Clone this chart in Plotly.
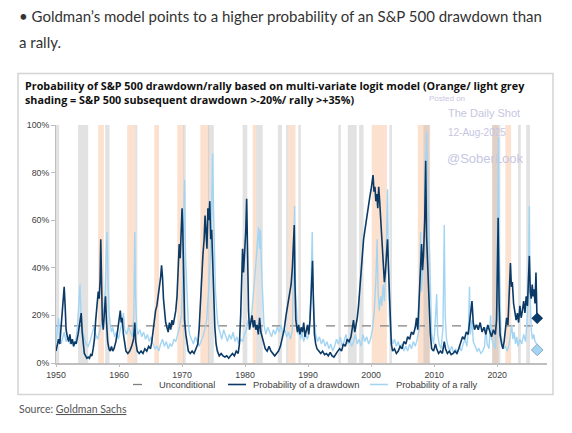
import plotly.graph_objects as go

# probability of a 20% drawdown (dark navy)
dd_years = [
    1950.0, 1950.2, 1950.4, 1950.6, 1950.8, 1951.0, 1951.2, 1951.3, 1951.45, 1951.6, 1951.8,
    1952.0, 1952.2, 1952.4, 1952.6, 1952.8, 1953.0, 1953.2, 1953.5, 1953.8, 1954.0, 1954.15,
    1954.3, 1954.5, 1954.7, 1954.9, 1955.1, 1955.3, 1955.5, 1955.7, 1955.9, 1956.1, 1956.3,
    1956.5, 1956.7, 1956.85, 1957.0, 1957.1, 1957.2, 1957.35, 1957.5, 1957.7, 1957.85, 1958.0,
    1958.2, 1958.4, 1958.6, 1958.8, 1959.0, 1959.2, 1959.5, 1959.8, 1960.0, 1960.2, 1960.35,
    1960.5, 1960.7, 1960.9, 1961.1, 1961.4, 1961.7, 1962.0, 1962.3, 1962.5, 1962.65, 1962.9,
    1963.2, 1963.5, 1963.8, 1964.1, 1964.4, 1964.7, 1965.0, 1965.2, 1965.4, 1965.6, 1965.8,
    1966.0, 1966.2, 1966.4, 1966.6, 1966.75, 1966.9, 1967.05, 1967.2, 1967.4, 1967.6, 1967.8,
    1968.0, 1968.2, 1968.4, 1968.6, 1968.8, 1969.0, 1969.2, 1969.4, 1969.55, 1969.7, 1969.85,
    1970.0, 1970.1, 1970.25, 1970.4, 1970.6, 1970.8, 1971.0, 1971.3, 1971.6, 1971.9, 1972.2,
    1972.5, 1972.7, 1972.9, 1973.1, 1973.3, 1973.5, 1973.65, 1973.8, 1973.95, 1974.1, 1974.25,
    1974.4, 1974.55, 1974.7, 1974.85, 1975.0, 1975.2, 1975.4, 1975.6, 1975.9, 1976.2, 1976.5,
    1976.8, 1977.1, 1977.4, 1977.7, 1978.0, 1978.3, 1978.6, 1978.9, 1979.1, 1979.3, 1979.5,
    1979.6, 1979.75, 1979.9, 1980.1, 1980.25, 1980.4, 1980.55, 1980.7, 1980.9, 1981.1, 1981.3,
    1981.5, 1981.7, 1981.9, 1982.1, 1982.3, 1982.5, 1982.7, 1982.9, 1983.2, 1983.5, 1983.8,
    1984.1, 1984.4, 1984.7, 1985.0, 1985.3, 1985.6, 1985.9, 1986.2, 1986.5, 1986.8, 1987.1,
    1987.3, 1987.5, 1987.7, 1987.8, 1987.9, 1988.05, 1988.3, 1988.5, 1988.7, 1988.9, 1989.1,
    1989.3, 1989.5, 1989.7, 1989.9, 1990.1, 1990.3, 1990.5, 1990.7, 1990.85, 1991.0, 1991.2,
    1991.4, 1991.7, 1992.0, 1992.3, 1992.6, 1992.9, 1993.2, 1993.5, 1993.8, 1994.1, 1994.4,
    1994.7, 1995.0, 1995.3, 1995.6, 1995.9, 1996.2, 1996.5, 1996.8, 1997.0, 1997.2, 1997.4,
    1997.6, 1997.8, 1998.0, 1998.2, 1998.4, 1998.6, 1998.8, 1999.0, 1999.2, 1999.4, 1999.6,
    1999.8, 2000.0, 2000.15, 2000.3, 2000.45, 2000.6, 2000.75, 2000.9, 2001.05, 2001.2, 2001.35,
    2001.5, 2001.65, 2001.8, 2001.95, 2002.1, 2002.25, 2002.45, 2002.6, 2002.75, 2002.9, 2003.05,
    2003.2, 2003.4, 2003.7, 2004.0, 2004.3, 2004.6, 2004.9, 2005.2, 2005.5, 2005.8, 2006.1,
    2006.4, 2006.7, 2007.0, 2007.2, 2007.4, 2007.6, 2007.8, 2008.0, 2008.15, 2008.3, 2008.5,
    2008.65, 2008.8, 2008.95, 2009.1, 2009.25, 2009.4, 2009.6, 2009.9, 2010.2, 2010.4, 2010.7,
    2011.0, 2011.3, 2011.6, 2011.8, 2012.1, 2012.4, 2012.7, 2013.0, 2013.3, 2013.6, 2013.9,
    2014.2, 2014.5, 2014.8, 2015.1, 2015.4, 2015.7, 2016.0, 2016.2, 2016.4, 2016.7, 2017.0,
    2017.3, 2017.6, 2017.9, 2018.2, 2018.5, 2018.8, 2019.1, 2019.4, 2019.7, 2019.9, 2020.05,
    2020.15, 2020.3, 2020.45, 2020.7, 2020.9, 2021.1, 2021.3, 2021.5, 2021.7, 2021.9, 2022.1,
    2022.25, 2022.4, 2022.6, 2022.8, 2023.0, 2023.2, 2023.4, 2023.6, 2023.8, 2024.0, 2024.2,
    2024.4, 2024.6, 2024.8, 2025.0, 2025.1, 2025.25, 2025.4, 2025.55, 2025.7, 2025.85, 2026.0,
    2026.15, 2026.3,
]
dd_values = [
    5, 7, 10, 8, 14, 20, 28, 32, 24, 14, 11,
    9, 12, 8, 10, 7, 9, 8, 12, 17, 21, 13,
    8, 4, 3, 2, 2.5, 2, 3.5, 3, 6, 10, 18,
    25, 30, 27, 35, 52, 38, 18, 14, 20, 28, 18,
    9, 6, 5, 7, 5, 6, 9, 14, 19, 22, 17,
    19, 12, 8, 5, 4, 5, 7, 10, 17, 9, 5,
    4, 5, 4, 6, 5, 7, 6, 9, 14, 19, 22,
    24, 28, 30, 36, 41, 36, 27, 22, 17, 15, 13,
    17, 14, 18, 16, 19, 22, 28, 40, 50, 44, 55,
    65, 58, 35, 18, 12, 8, 5, 4, 5, 4, 6,
    8, 14, 26, 35, 45, 52, 62, 55, 48, 65, 60,
    68, 52, 56, 40, 26, 15, 8, 5, 3, 4, 3,
    2.5, 3, 2, 3, 4, 3, 5, 4, 8, 20, 40,
    48, 38, 45, 55, 69, 40, 22, 14, 17, 20, 15,
    18, 14, 16, 12, 19, 13, 11, 8, 6, 5, 7,
    5, 4, 3, 4, 5, 7, 10, 14, 20, 25, 28,
    33, 40, 50, 58, 35, 18, 13, 16, 12, 15, 13,
    17, 11, 14, 16, 12, 18, 30, 43, 25, 12, 8,
    6, 5, 4, 5, 3.5, 4, 3, 4.5, 3, 2.5, 4,
    5, 6, 5, 8, 7, 10, 9, 11, 15, 18, 13,
    16, 19, 24, 30, 38, 45, 52, 56, 60, 64, 66,
    70, 73, 76, 79, 72, 74, 68, 71, 65, 74, 68,
    60, 57, 48, 40, 34, 38, 45, 52, 40, 28, 16,
    8, 5, 6, 4, 5, 7, 6, 9, 8, 11, 10,
    13, 12, 15, 19, 14, 25, 36, 50, 39, 45, 60,
    85, 53, 40, 28, 22, 12, 6, 5, 8, 6, 4,
    5, 4, 9, 6, 4, 5, 3.5, 4, 5, 4, 6,
    9, 11, 10, 13, 12, 18, 26, 17, 14, 16, 14,
    17, 13, 15, 12, 16, 13, 11, 14, 12, 18, 45,
    61, 25, 12, 8, 6, 9, 14, 19, 16, 30, 42,
    32, 34, 25, 22, 18, 21, 17, 24, 19, 22, 26,
    21, 28, 24, 35, 45, 30, 27, 33, 28, 31, 25,
    38, 20,
]

# probability of a 35% rally (light blue)
rally_years = [
    1950.0, 1950.2, 1950.4, 1950.55, 1950.8, 1951.0, 1951.3, 1951.6, 1951.9, 1952.2, 1952.5,
    1952.8, 1953.1, 1953.4, 1953.6, 1953.8, 1953.95, 1954.2, 1954.5, 1954.8, 1955.1, 1955.4,
    1955.7, 1956.0, 1956.3, 1956.6, 1956.9, 1957.2, 1957.5, 1957.8, 1958.0, 1958.1, 1958.25,
    1958.4, 1958.6, 1958.8, 1959.0, 1959.3, 1959.6, 1959.9, 1960.2, 1960.5, 1960.7, 1960.9,
    1961.2, 1961.5, 1961.8, 1962.1, 1962.35, 1962.5, 1962.6, 1962.8, 1963.0, 1963.3, 1963.6,
    1963.9, 1964.2, 1964.5, 1964.8, 1965.1, 1965.4, 1965.7, 1966.0, 1966.3, 1966.6, 1966.9,
    1967.2, 1967.5, 1967.8, 1968.1, 1968.4, 1968.7, 1969.0, 1969.3, 1969.6, 1969.9, 1970.1,
    1970.25, 1970.4, 1970.55, 1970.7, 1970.85, 1971.0, 1971.2, 1971.5, 1971.8, 1972.1, 1972.4,
    1972.7, 1973.0, 1973.3, 1973.6, 1973.9, 1974.2, 1974.5, 1974.7, 1974.85, 1974.95, 1975.1,
    1975.3, 1975.5, 1975.7, 1976.0, 1976.3, 1976.6, 1976.9, 1977.2, 1977.5, 1977.8, 1978.1,
    1978.4, 1978.7, 1979.0, 1979.3, 1979.6, 1979.9, 1980.2, 1980.5, 1980.8, 1981.1, 1981.4,
    1981.6, 1981.8, 1982.0, 1982.15, 1982.3, 1982.45, 1982.6, 1982.8, 1983.0, 1983.3, 1983.6,
    1983.9, 1984.2, 1984.5, 1984.8, 1985.1, 1985.4, 1985.7, 1986.0, 1986.3, 1986.6, 1986.9,
    1987.2, 1987.5, 1987.7, 1987.85, 1988.0, 1988.2, 1988.4, 1988.6, 1988.8, 1989.0, 1989.3,
    1989.6, 1989.9, 1990.2, 1990.45, 1990.65, 1990.8, 1991.0, 1991.2, 1991.5, 1991.8, 1992.1,
    1992.4, 1992.7, 1993.0, 1993.3, 1993.6, 1993.9, 1994.2, 1994.5, 1994.8, 1995.1, 1995.4,
    1995.7, 1996.0, 1996.3, 1996.6, 1996.9, 1997.2, 1997.5, 1997.8, 1998.1, 1998.4, 1998.7,
    1999.0, 1999.3, 1999.6, 1999.9, 2000.2, 2000.5, 2000.75, 2000.95, 2001.1, 2001.3, 2001.5,
    2001.7, 2001.9, 2002.1, 2002.3, 2002.5, 2002.6, 2002.75, 2002.9, 2003.1, 2003.4, 2003.7,
    2004.0, 2004.3, 2004.6, 2004.9, 2005.2, 2005.5, 2005.8, 2006.1, 2006.4, 2006.7, 2007.0,
    2007.3, 2007.6, 2007.85, 2008.0, 2008.2, 2008.4, 2008.6, 2008.8, 2008.95, 2009.1, 2009.25,
    2009.4, 2009.6, 2009.9, 2010.1, 2010.4, 2010.55, 2010.8, 2011.1, 2011.4, 2011.6, 2011.75,
    2011.95, 2012.2, 2012.5, 2012.8, 2013.1, 2013.4, 2013.7, 2014.0, 2014.3, 2014.6, 2014.9,
    2015.2, 2015.45, 2015.6, 2015.75, 2016.0, 2016.2, 2016.5, 2016.8, 2017.1, 2017.4, 2017.7,
    2018.0, 2018.2, 2018.4, 2018.7, 2018.95, 2019.1, 2019.4, 2019.7, 2019.95, 2020.1, 2020.2,
    2020.3, 2020.45, 2020.6, 2020.8, 2021.0, 2021.3, 2021.6, 2021.9, 2022.1, 2022.3, 2022.5,
    2022.7, 2022.9, 2023.1, 2023.3, 2023.6, 2023.9, 2024.2, 2024.5, 2024.8, 2025.0, 2025.1,
    2025.2, 2025.4, 2025.6, 2025.8, 2026.0, 2026.3,
]
rally_values = [
    9, 14, 19, 12, 8, 10, 13, 9, 11, 8, 10,
    7, 9, 15, 24, 33, 22, 14, 10, 8, 7, 9,
    12, 15, 12, 10, 13, 16, 20, 30, 45, 55, 35,
    22, 16, 13, 15, 11, 13, 10, 14, 17, 21, 14,
    12, 15, 13, 11, 20, 55, 30, 15, 12, 14, 11,
    13, 10, 12, 9, 11, 8, 6, 7, 5, 8, 10,
    7, 9, 6, 8, 7, 10, 9, 12, 15, 20, 35,
    60, 77, 45, 32, 20, 16, 12, 10, 8, 11, 9,
    7, 9, 11, 14, 18, 30, 45, 65, 88, 70, 46,
    30, 22, 16, 13, 10, 14, 11, 9, 12, 10, 13,
    9, 11, 8, 10, 9, 12, 14, 18, 15, 22, 30,
    38, 45, 52, 57, 48, 56, 40, 25, 16, 12, 15,
    13, 11, 14, 12, 15, 13, 16, 12, 14, 11, 13,
    10, 14, 40, 66, 30, 18, 12, 15, 10, 13, 9,
    12, 10, 14, 30, 55, 30, 18, 12, 9, 11, 8,
    10, 7, 9, 6, 8, 5, 7, 10, 8, 11, 7,
    9, 12, 8, 10, 7, 9, 12, 8, 10, 7, 12,
    9, 11, 8, 10, 14, 22, 35, 52, 30, 22, 28,
    24, 33, 26, 38, 60, 73, 40, 20, 12, 8, 10,
    7, 9, 6, 8, 5, 7, 5, 8, 6, 9, 7,
    10, 14, 55, 30, 40, 50, 80, 97, 80, 64, 40,
    22, 12, 8, 14, 29, 12, 8, 6, 15, 58, 20,
    10, 7, 5, 7, 4, 6, 4, 7, 5, 8, 10,
    7, 15, 32, 12, 18, 9, 7, 5, 6, 4, 5,
    7, 15, 8, 6, 20, 10, 8, 6, 30, 75, 95,
    50, 22, 12, 8, 6, 7, 5, 8, 12, 16, 10,
    13, 8, 11, 7, 10, 8, 12, 9, 20, 45, 66,
    30, 14, 10, 12, 9, 8,
]

UNCONDITIONAL = 15.6
DRAWDOWN_LATEST = 18.8
RALLY_LATEST = 5.5
LATEST_X = 2026.35

# subsequent drawdown >-20% (orange) and rally >+35% (grey) periods
drawdown_periods = [
    (1956.7, 1957.6), (1961.3, 1962.55), (1965.6, 1966.35), (1969.25, 1970.25),
    (1972.9, 1974.3), (1981.2, 1981.75), (1986.9, 1988.0), (2000.1, 2002.5),
    (2007.4, 2009.35), (2019.2, 2020.2), (2021.3, 2022.2),
]
rally_periods = [
    (1950.0, 1950.5), (1953.5, 1955.1), (1957.8, 1958.5), (1962.55, 1962.9),
    (1970.15, 1970.6), (1974.1, 1975.05), (1979.6, 1980.35), (1981.75, 1982.8),
    (1985.2, 1985.85), (1986.5, 1986.9), (1988.45, 1988.85), (1994.8, 1995.2),
    (1996.3, 1997.7), (1998.1, 1998.8), (2002.9, 2003.3), (2008.3, 2009.25),
    (2019.2, 2020.5), (2023.3, 2023.75), (2024.6, 2025.2),
]

# page is offset by the 8px body margin; positions below are page pixels
OFF = 8
L, R, T, B = 56, 547, 125, 363
LEGEND_Y = 384.5


def px_x(px):
    return (px - L) / (R - L)


def px_y(py):
    return (B - py) / (B - T)


NAVY = "#0b3a67"
LIGHT = "#a3d5f3"
GREY_TXT = "#404040"
AXIS_FONT = dict(family="Liberation Sans, Arial", size=8.8, color=GREY_TXT)

fig = go.Figure()

fig.add_trace(go.Scatter(
    x=[dd_years[0], LATEST_X], y=[UNCONDITIONAL, UNCONDITIONAL],
    mode="lines", name="Unconditional",
    line=dict(color="#808080", width=1.3, dash="dash"),
))
fig.add_trace(go.Scatter(
    x=rally_years, y=rally_values, mode="lines", name="Probability of a rally",
    line=dict(color=LIGHT, width=1.4),
))
fig.add_trace(go.Scatter(
    x=dd_years, y=dd_values, mode="lines", name="Probability of a drawdown",
    line=dict(color=NAVY, width=1.6),
))
fig.add_trace(go.Scatter(
    x=[LATEST_X], y=[RALLY_LATEST], mode="markers",
    marker=dict(symbol="diamond", size=9, color=LIGHT, line=dict(color="#8aaac4", width=1)),
))
fig.add_trace(go.Scatter(
    x=[LATEST_X], y=[DRAWDOWN_LATEST], mode="markers",
    marker=dict(symbol="diamond", size=9, color=NAVY),
))

shapes = []
for x0, x1 in drawdown_periods:
    shapes.append(dict(type="rect", xref="x", yref="paper", x0=x0, x1=x1, y0=0, y1=1,
                       fillcolor="rgba(251,196,160,0.5)", line_width=0, layer="below"))
for x0, x1 in rally_periods:
    shapes.append(dict(type="rect", xref="x", yref="paper", x0=x0, x1=x1, y0=0, y1=1,
                       fillcolor="rgba(185,185,185,0.42)", line_width=0, layer="below"))
# chart frame
shapes.append(dict(type="rect", xref="paper", yref="paper",
                   x0=px_x(18), x1=px_x(553), y0=px_y(394.5), y1=px_y(73.5),
                   line=dict(color="#d4d4d4", width=1.5), layer="below"))

# hand-drawn legend (plotly's own one is too wide here)
legend_items = [
    ("Unconditional", 133, 150, 157, dict(color="#808080", width=1.3, dash="dash")),
    ("Probability of a drawdown", 228, 246, 251, dict(color=NAVY, width=1.6)),
    ("Probability of a rally", 370, 388, 394, dict(color=LIGHT, width=1.6)),
]
for label, x0, x1, tx, style in legend_items:
    shapes.append(dict(type="line", xref="paper", yref="paper",
                       x0=px_x(x0), x1=px_x(x1), y0=px_y(LEGEND_Y), y1=px_y(LEGEND_Y), line=style))
fig.update_layout(shapes=shapes)

annotations = [
    dict(text="• Goldman’s model points to a higher probability of an S&P 500 drawdown than",
         x=px_x(17), y=px_y(16), font=dict(family="Lato", size=15, color="#333333")),
    dict(text="a rally.", x=px_x(17), y=px_y(42.5),
         font=dict(family="Lato", size=15, color="#333333")),
    dict(text="<b>Probability of S&P 500 drawdown/rally based on multi-variate logit model (Orange/ light grey"
              "<br>shading = S&P 500 subsequent drawdown >-20%/ rally >+35%)</b>",
         x=px_x(23), y=px_y(92), align="left",
         font=dict(family="Open Sans", size=10.8, color="#111111")),
    dict(text="Posted on", x=px_x(427), y=px_y(99),
         font=dict(family="Liberation Sans", size=8, color="#c6c6e2")),
    dict(text="The Daily Shot", x=px_x(446), y=px_y(113.5),
         font=dict(family="Liberation Sans", size=11, color="#c6c6e2")),
    dict(text="12-Aug-2025", x=px_x(446), y=px_y(132),
         font=dict(family="Liberation Sans", size=10, color="#c6c6e2")),
    dict(text="@SoberLook", x=px_x(445), y=px_y(158),
         font=dict(family="Liberation Sans", size=13, color="#c6c6e2")),
    dict(text="Source: <u>Goldman Sachs</u>", x=px_x(17), y=px_y(409),
         font=dict(family="Lato", size=10.5, color="#555555")),
]
for label, x0, x1, tx, style in legend_items:
    annotations.append(dict(text=label, x=px_x(tx), y=px_y(LEGEND_Y),
                            font=dict(family="Liberation Sans, Arial", size=9.3, color=GREY_TXT)))
for a in annotations:
    a.update(xref="paper", yref="paper", xanchor="left", yanchor="middle", showarrow=False)
fig.update_layout(annotations=annotations)

y_ticks = [0, 20, 40, 60, 80, 100]
fig.update_xaxes(
    range=[1950, 2027.9], tickvals=[1950, 1960, 1970, 1980, 1990, 2000, 2010, 2020],
    showgrid=False, zeroline=False, showline=True, linecolor="#bfbfbf", linewidth=2,
    ticks="outside", ticklen=2, tickcolor="#bfbfbf", tickfont=AXIS_FONT,
)
fig.update_yaxes(
    range=[0, 100], tickvals=y_ticks, ticktext=[f"{v}%" for v in y_ticks],
    showgrid=False, zeroline=False, showline=True, linecolor="#bfbfbf", linewidth=1,
    ticks="outside", ticklen=4, tickcolor="#bfbfbf", tickfont=AXIS_FONT,
)

fig.update_layout(
    width=572 - OFF, height=433 - OFF,
    margin=dict(l=L - OFF, r=572 - R, t=T - OFF, b=433 - B),
    paper_bgcolor="white", plot_bgcolor="white",
    showlegend=False,
)

fig.write_html("out.html")
